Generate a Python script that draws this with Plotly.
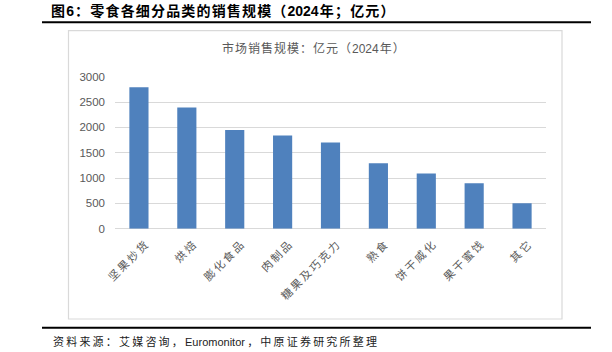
import plotly.graph_objects as go

categories = ["坚果炒货", "烘焙", "膨化食品", "肉制品", "糖果及巧克力", "熟食", "饼干威化", "果干蜜饯", "其它"]
values = [2790, 2390, 1950, 1840, 1700, 1290, 1090, 895, 500]
y_ticks = [0, 500, 1000, 1500, 2000, 2500, 3000]

title_text = "图6：零食各细分品类的销售规模（2024年；亿元）"
chart_title = "市场销售规模：亿元（2024年）"
source_text = "资料来源：艾媒咨询，Euromonitor，中原证券研究所整理"

W, H = 612, 352


def px(x):
    return x / W


def py(y):
    return 1 - y / H


def is_cjk(c):
    return ord(c) > 0x2E80


def spaced(s, sp="\u2009"):
    # add a narrow space between characters where a CJK glyph is involved (letter spacing)
    out = s[0]
    for a, b in zip(s, s[1:]):
        if is_cjk(a) or is_cjk(b):
            out += sp
        out += b
    return out


GRAY = "#595959"
GRID = "#D9D9D9"
CJK = "Liberation Sans, Noto Sans CJK SC"

fig = go.Figure(
    go.Bar(
        x=categories,
        y=values,
        width=0.4,
        marker=dict(color="#4F81BD", line=dict(width=0)),
        hoverinfo="x+y",
    )
)

fig.update_layout(
    width=W,
    height=H,
    autosize=False,
    margin=dict(l=0, r=0, t=0, b=0),
    paper_bgcolor="white",
    plot_bgcolor="white",
    showlegend=False,
    xaxis=dict(
        domain=[px(115), px(546)],
        tickangle=-45,
        tickmode="array",
        tickvals=categories,
        ticktext=[spaced(c) for c in categories],
        tickfont=dict(family=CJK, size=11, color=GRAY),
        showgrid=False,
        showline=False,
        zeroline=False,
        automargin=False,
        ticks="",
        ticklabelstandoff=7,
        ticklabelshift=6,
        fixedrange=True,
    ),
    yaxis=dict(
        domain=[py(228.7), py(76.7)],
        range=[0, 3000],
        tickvals=y_ticks,
        ticktext=[str(v) for v in y_ticks],
        tickfont=dict(family="Liberation Sans, Arial", size=11.5, color=GRAY),
        showgrid=True,
        gridcolor=GRID,
        gridwidth=1.3,
        zeroline=True,
        zerolinecolor=GRID,
        zerolinewidth=1.3,
        showline=False,
        automargin=False,
        ticks="",
        ticklabelstandoff=9,
        fixedrange=True,
    ),
    shapes=[
        # chart border box
        dict(type="rect", xref="paper", yref="paper",
             x0=px(68.5), x1=px(562), y0=py(319), y1=py(30.7),
             line=dict(color=GRID, width=1.2), fillcolor="rgba(0,0,0,0)", layer="below"),
        # top black rule
        dict(type="line", xref="paper", yref="paper",
             x0=px(42), x1=px(591), y0=py(22.3), y1=py(22.3),
             line=dict(color="black", width=2)),
        # bottom black rule
        dict(type="line", xref="paper", yref="paper",
             x0=px(42), x1=px(591), y0=py(327.7), y1=py(327.7),
             line=dict(color="black", width=2)),
    ],
    annotations=[
        dict(text="<b>" + spaced(title_text, "\u200a") + "</b>", xref="paper", yref="paper",
             x=px(49), y=py(11), xanchor="left", yanchor="middle", showarrow=False,
             font=dict(family=CJK, size=14, color="black")),
        dict(text=spaced(chart_title, "\u200a"), xref="paper", yref="paper",
             x=px(313), y=py(49), xanchor="center", yanchor="middle", showarrow=False,
             font=dict(family=CJK, size=12, color=GRAY)),
        dict(text=spaced(source_text), xref="paper", yref="paper",
             x=px(50.5), y=py(341), xanchor="left", yanchor="middle", showarrow=False,
             font=dict(family=CJK, size=11, color="#222222")),
    ],
)

fig.write_html("out.html", config={"displayModeBar": False})
